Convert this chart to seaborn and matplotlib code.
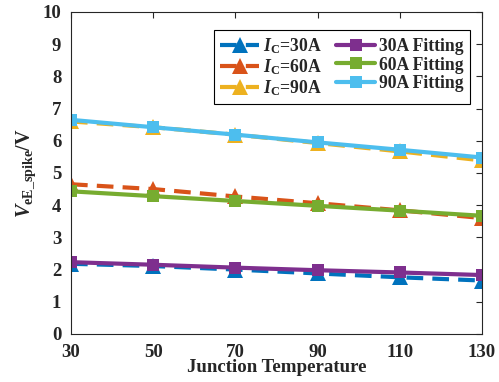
import numpy as np
import pandas as pd
import matplotlib
matplotlib.use("Agg")
import matplotlib.pyplot as plt
import seaborn as sns

# Junction temperature (°C)
temps = [30, 50, 70, 90, 110, 130]

# Measured spike voltages
meas_30a = [2.18, 2.11, 2.00, 1.88, 1.76, 1.66]
meas_60a = [4.65, 4.50, 4.27, 4.06, 3.84, 3.60]
meas_90a = [6.60, 6.42, 6.19, 5.93, 5.67, 5.39]

# Fitted spike voltages
fit_30a = [2.23, 2.15, 2.06, 1.98, 1.91, 1.83]
fit_60a = [4.43, 4.28, 4.13, 3.98, 3.83, 3.67]
fit_90a = [6.65, 6.42, 6.19, 5.95, 5.72, 5.48]

meas_labels = [r"$I_{\mathrm{C}}$=30A", r"$I_{\mathrm{C}}$=60A", r"$I_{\mathrm{C}}$=90A"]
fit_labels = ["30A Fitting", "60A Fitting", "90A Fitting"]
x_ticks = [30, 50, 70, 90, 110, 130]
y_ticks = list(range(0, 11))

sns.set_theme(style="white")
plt.rcParams["font.family"] = ["Liberation Serif", "DejaVu Serif"]
plt.rcParams["font.weight"] = "bold"
plt.rcParams["mathtext.fontset"] = "custom"
plt.rcParams["mathtext.rm"] = "Liberation Serif:bold"
plt.rcParams["mathtext.bf"] = "Liberation Serif:bold"
plt.rcParams["mathtext.it"] = "Liberation Serif:italic:bold"

meas_colors = ["#0072BD", "#D95319", "#EDB120"]
fit_colors = ["#7E2F8E", "#77AC30", "#4DBEEE"]

fig = plt.figure(figsize=(4.99, 3.82), dpi=100)
ax = fig.add_axes([0.1423, 0.1257, 0.8236, 0.843])

for vals, lab, col in zip([meas_30a, meas_60a, meas_90a], meas_labels, meas_colors):
    df = pd.DataFrame({"T": temps, "V": vals})
    sns.lineplot(data=df, x="T", y="V", ax=ax, color=col, linewidth=3,
                 linestyle=(0, (4, 2.2)), marker="^", markersize=11,
                 markeredgewidth=0, label=lab)
for vals, lab, col in zip([fit_30a, fit_60a, fit_90a], fit_labels, fit_colors):
    df = pd.DataFrame({"T": temps, "V": vals})
    sns.lineplot(data=df, x="T", y="V", ax=ax, color=col, linewidth=3,
                 marker="s", markersize=8, markeredgewidth=0, label=lab)

ax.set_xlim(30, 130)
ax.set_ylim(0, 10)
ax.set_xticks(x_ticks)
ax.set_yticks(y_ticks)
ax.tick_params(direction="in", top=True, right=True, length=4, width=0.8,
               labelsize=13.5, color="#262626")
ax.tick_params(axis="x", pad=7)
ax.tick_params(axis="y", pad=7)
for lbl in ax.get_xticklabels() + ax.get_yticklabels():
    lbl.set_fontweight("bold")
for s in ax.spines.values():
    s.set_color("#262626")
    s.set_linewidth(0.8)

ax.set_xlabel("Junction Temperature", fontsize=13.6, fontweight="bold", labelpad=-1)
ax.set_ylabel(r"$V_{\mathrm{eE\_spike}}$/V", fontsize=14.5, fontweight="bold", labelpad=3)

leg = ax.legend(ncol=2, loc="upper right", bbox_to_anchor=(0.971, 0.944),
                borderaxespad=0, frameon=True, fancybox=False,
                framealpha=1, edgecolor="black", handlelength=2.2,
                columnspacing=0.8, handletextpad=0.25, labelspacing=0.08,
                borderpad=0.35, prop={"weight": "bold", "size": 12.7})
leg.get_frame().set_linewidth(0.8)

fig.savefig("out.png", dpi=100)
